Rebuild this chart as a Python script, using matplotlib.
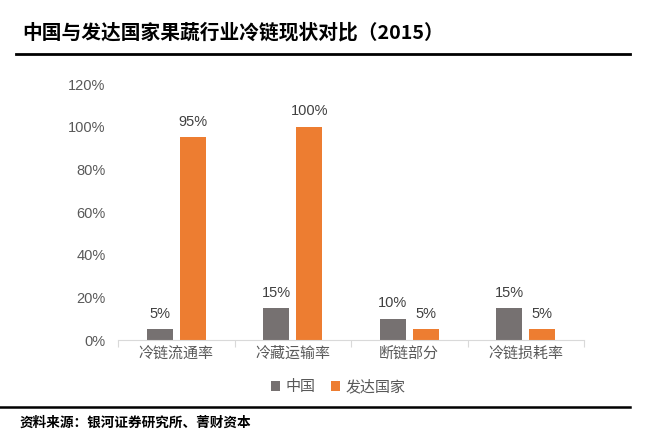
import matplotlib
matplotlib.use("Agg")
import matplotlib.pyplot as plt
import numpy as np
from matplotlib.ticker import FuncFormatter

plt.rcParams['font.family'] = ['Noto Sans CJK SC', 'DejaVu Sans']

categories = ['冷链流通率', '冷藏运输率', '断链部分', '冷链损耗率']
china = [5, 15, 10, 15]
developed = [95, 100, 5, 5]
series_names = ['中国', '发达国家']
title = '中国与发达国家果蔬行业冷链现状对比（2015）'
source = '资料来源：银河证券研究所、菁财资本'

W, H = 653, 443
fig = plt.figure(figsize=(W/100, H/100), dpi=100)

ax = fig.add_axes([118/W, 1-340/H, (584-118)/W, (340-84)/H])
x = np.arange(len(categories))
bw = 0.223
off = 0.142
c_gray = '#767171'
c_orange = '#ED7D31'
b1 = ax.bar(x - off, china, bw, color=c_gray, label=series_names[0])
b2 = ax.bar(x + off, developed, bw, color=c_orange, label=series_names[1])
numfont = ['Liberation Sans Narrow', 'Liberation Sans', 'DejaVu Sans']
for bars, vals in ((b1, china), (b2, developed)):
    for r, v in zip(bars, vals):
        ax.annotate(f'{v}%', (r.get_x()+r.get_width()/2, v), xytext=(0, 6),
                    textcoords='offset points', ha='center', va='bottom',
                    fontsize=10.5, color='#404040', family=numfont)

ax.set_xlim(-0.5, len(categories)-0.5)
ax.set_ylim(0, 120)
ax.set_yticks(np.arange(0, 121, 20))
ax.yaxis.set_major_formatter(FuncFormatter(lambda v, p: f'{int(v)}%'))
for lab in ax.get_yticklabels():
    lab.set_family(numfont)
ax.tick_params(axis='y', length=0, labelsize=10.5, labelcolor='#595959', pad=9)
ax.set_xticks(x)
ax.set_xticklabels(categories, fontsize=10.8, color='#595959')
ax.tick_params(axis='x', length=0, pad=5)
ax.set_xticks(np.arange(-0.5, len(categories), 1), minor=True)
ax.tick_params(axis='x', which='minor', length=5, color='#d9d9d9', width=0.8)
for s in ['top', 'right', 'left']:
    ax.spines[s].set_visible(False)
ax.spines['bottom'].set_color('#d9d9d9')
ax.spines['bottom'].set_linewidth(0.8)

leg = fig.legend(loc='center', bbox_to_anchor=(338/W, 1-387/H), ncol=2, frameon=False,
                 fontsize=10.8, handlelength=0.6, handleheight=0.6, handletextpad=0.4,
                 columnspacing=1.0)
for t in leg.get_texts():
    t.set_color('#595959')

fig.text(22/W, 1-33/H, title, fontsize=14.2, fontweight='bold', va='center', ha='left', color='black')
fig.add_artist(plt.Line2D([16/W, 630/W], [1-54/H, 1-54/H], color='black', lw=2))
fig.add_artist(plt.Line2D([0, 630/W], [1-407/H, 1-407/H], color='black', lw=1.8))
fig.text(20/W, 1-423/H, source, fontsize=9.8, fontweight='bold', va='center', ha='left', color='black')

fig.savefig('out.png', dpi=100)
